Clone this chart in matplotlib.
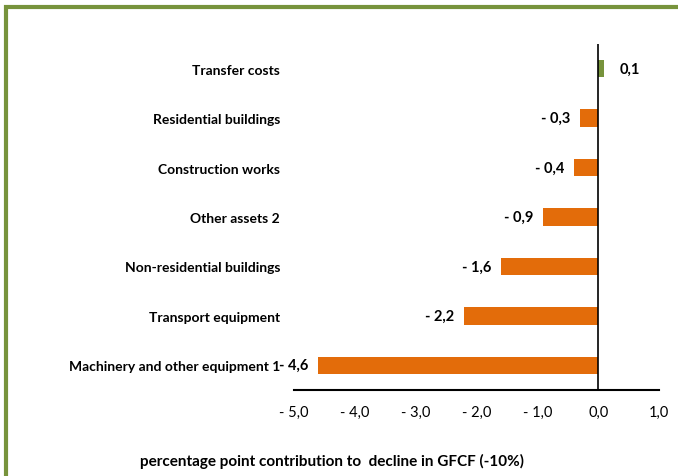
import matplotlib
matplotlib.use("Agg")
import matplotlib.pyplot as plt
from matplotlib import font_manager
from matplotlib.patches import Rectangle

names = {f.name for f in font_manager.fontManager.ttflist}
fam = "Liberation Sans Narrow" if "Liberation Sans Narrow" in names else "Lato"
plt.rcParams['font.family'] = [fam, 'DejaVu Sans']

categories = ["Machinery and other equipment 1", "Transport equipment",
              "Non-residential buildings", "Other assets 2",
              "Construction works", "Residential buildings", "Transfer costs"]
values = [-4.6, -2.2, -1.6, -0.9, -0.4, -0.3, 0.1]
xticks = [-5, -4, -3, -2, -1, 0, 1]

orange = "#E36C0A"
green = "#77933C"

def fmt(v):
    s = f"{abs(v):.1f}".replace(".", ",")
    return ("- " + s) if v < 0 else s

fig = plt.figure(figsize=(6.78, 4.77), dpi=100)
ax = fig.add_axes([0.4336, 0.1803, 0.972 - 0.4336, 0.9057 - 0.1803])
ypos = list(range(len(categories)))
colors = [orange if v < 0 else green for v in values]
ax.barh(ypos, values, height=0.35, color=colors)
ax.set_xlim(-5, 1)
ax.set_ylim(-0.5, len(categories) - 0.5)
ax.set_yticks(ypos)
ax.set_yticklabels(categories, fontsize=10, fontweight='bold')
ax.set_xticks(xticks)
ax.set_xticklabels([fmt(t) if t != 0 else "0,0" for t in xticks], fontsize=10.5)
ax.tick_params(axis='y', length=0, pad=10)
ax.tick_params(axis='x', length=0, pad=11)
for s in ['top', 'right', 'left']:
    ax.spines[s].set_visible(False)
ax.spines['bottom'].set_linewidth(1.5)
ax.axvline(0, color='black', lw=1.2)

for y, v in zip(ypos, values):
    if v < 0:
        ax.text(v - 0.16, y, fmt(v), ha='right', va='center', fontsize=10.5, fontweight='bold')
    else:
        ax.text(v + 0.25, y, fmt(v), ha='left', va='center', fontsize=10.5, fontweight='bold')

fig.text(0.49, 1 - 461 / 477, "percentage point contribution to  decline in GFCF (-10%)",
         ha='center', va='center', fontsize=11, fontweight='bold')

fig.patches.append(Rectangle((6 / 678, -0.1), 1.1, 1 - 8 / 477 + 0.1, transform=fig.transFigure,
                             fill=False, edgecolor=green, lw=3))
fig.savefig("out.png", dpi=100)
